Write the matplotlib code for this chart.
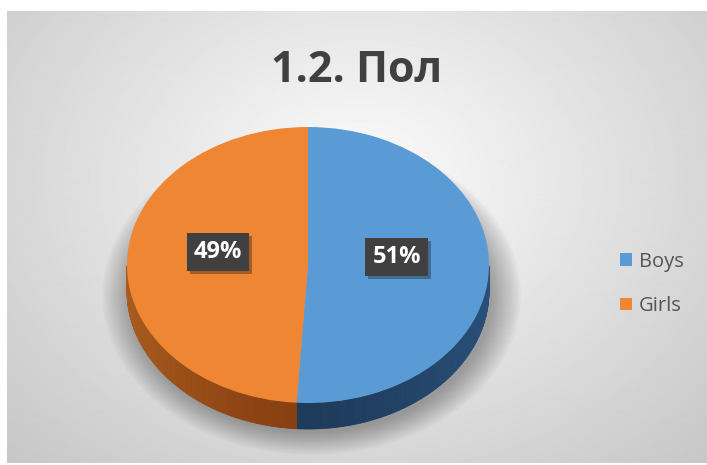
import numpy as np
import matplotlib
matplotlib.use("Agg")
import matplotlib.pyplot as plt
import matplotlib.patheffects as pe
from matplotlib.patches import Ellipse, Polygon

plt.rcParams['font.family'] = ['Open Sans', 'DejaVu Sans']

# Data
labels = ['Boys', 'Girls']
shares = [51, 49]
title = '1.2. Пол'

top_colors = ['#5b9bd5', '#ef8633']
side_dark = ['#1e3b5b', '#873f11']
side_light = ['#294f78', '#a95b1f']

W, H = 707, 465
fig = plt.figure(figsize=(W / 100, H / 100), dpi=100)
fig.patch.set_facecolor('white')

# background with radial gradient (chart area)
bg = fig.add_axes([0, 0, 1, 1])
bg.set_xlim(0, W)
bg.set_ylim(H, 0)
bg.axis('off')
x0, x1, y0, y1 = 7, 707, 12, 463
xx, yy = np.meshgrid(np.arange(x0, x1), np.arange(y0, y1))
r = np.sqrt(((xx - 360) / 420.0) ** 2 + ((yy - 180) / 330.0) ** 2)
grad = np.clip(252 - 45 * r, 0, 255)
bg.imshow(grad, extent=(x0, x1, y1, y0), cmap='gray', vmin=0, vmax=255,
          aspect='auto', interpolation='bilinear')

# pie axes: unit ellipse -> center (308,265), rx 181, ry 138 px
cx, cy, rx, ry = 308, 265, 181, 138
depth = 26 / ry
ax = fig.add_axes([0, 0, 1, 1])
ax.patch.set_alpha(0)

# soft shadow under pie
for i in range(14):
    s = 1.0 + 0.012 * i
    ax.add_patch(Ellipse((0.02, -depth - 0.03), 2 * s, 2 * s, color='black',
                         alpha=0.022, lw=0, zorder=0))

wedges, _ = ax.pie(shares, colors=top_colors, startangle=90, counterclock=False,
                   radius=1, center=(0, 0), wedgeprops=dict(lw=0, zorder=3))

# 3D side of the pie (front half only)
for w, c_dark, c_light in zip(wedges, side_dark, side_light):
    t = np.radians(np.linspace(w.theta1, w.theta2, 300))
    t = t[np.sin(t) <= 0]
    if len(t) < 2:
        continue
    cd = np.array(matplotlib.colors.to_rgb(c_dark))
    cl = np.array(matplotlib.colors.to_rgb(c_light))
    for a, b in zip(t[:-1], t[1:]):
        f = min(1, abs(np.cos((a + b) / 2)) ** 1.5)
        col = cd + (cl - cd) * f
        pts = [(np.cos(a), np.sin(a)), (np.cos(b), np.sin(b)),
               (np.cos(b), np.sin(b) - depth), (np.cos(a), np.sin(a) - depth)]
        ax.add_patch(Polygon(pts, closed=True, fc=col, ec=col, lw=0.6, zorder=2))

ax.set_aspect('auto')
ax.set_xlim((0 - cx) / rx, (W - cx) / rx)
ax.set_ylim((cy - H) / ry, cy / ry)
ax.axis('off')

# data labels
label_pos = [(0.49, 0.058), (-0.497, 0.094)]
for (lx, ly), v in zip(label_pos, shares):
    t = ax.text(lx, ly, f'{v}%', ha='center', va='center', fontsize=17,
                fontweight='bold', color='white', zorder=6,
                bbox=dict(boxstyle='square,pad=0.3', fc='#404040', ec='none'))
    t.get_bbox_patch().set_path_effects(
        [pe.SimplePatchShadow(offset=(2, -2), alpha=0.35), pe.Normal()])

# title
fig.text(357 / W, 1 - 70 / H, title, ha='center', va='center', fontsize=31,
         fontweight='bold', color='#404040')

# legend
fig.legend(wedges, labels, loc='center left',
           bbox_to_anchor=(620 / W, 1 - 284 / H), frameon=False,
           fontsize=14.5, labelcolor='#555555', handlelength=0.6,
           handleheight=0.6, handletextpad=0.33, labelspacing=1.2,
           borderpad=0, borderaxespad=0)

fig.savefig('out.png', dpi=100)
